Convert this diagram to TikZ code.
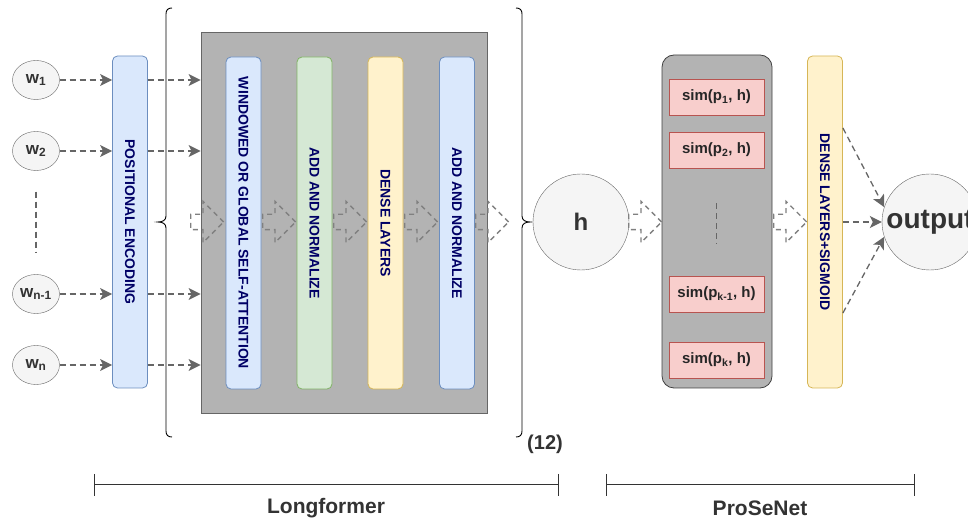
\documentclass[tikz,border=0pt]{standalone}
\usepackage{fontspec}
\setmainfont{Liberation Sans}
\usetikzlibrary{arrows.meta,shapes.geometric,shapes.arrows}

\definecolor{navy}{HTML}{000066}
\definecolor{txt}{HTML}{333333}
\definecolor{edge}{HTML}{666666}
\definecolor{lightfill}{HTML}{F5F5F5}
\definecolor{boxgray}{HTML}{B3B3B3}
\definecolor{bluefill}{HTML}{DAE8FC}
\definecolor{bluedraw}{HTML}{6C8EBF}
\definecolor{greenfill}{HTML}{D5E8D4}
\definecolor{greendraw}{HTML}{82B366}
\definecolor{yellowfill}{HTML}{FFF2CC}
\definecolor{yellowdraw}{HTML}{D6B656}
\definecolor{redfill}{HTML}{F8CECC}
\definecolor{reddraw}{HTML}{B85450}

\begin{document}
\begin{tikzpicture}[x=1pt,y=1pt,
        token/.style={ellipse, draw=edge, fill=lightfill, minimum width=47pt, minimum height=39pt, inner sep=0pt, text=txt, font=\fontsize{17}{20}\selectfont\bfseries},
        layer/.style={rectangle, rounded corners=5pt, minimum width=35pt, minimum height=332pt, inner sep=0pt, line width=0.8pt},
        vtext/.style={rotate=-90, text=navy, font=\fontsize{14}{16}\selectfont\bfseries},
        simbox/.style={rectangle, draw=reddraw, fill=redfill, line width=0.8pt, minimum width=95pt, minimum height=36pt, inner sep=0pt, text=black!85, font=\fontsize{15}{18}\selectfont\bfseries},
        flow/.style={draw=edge, dash pattern=on 6pt off 4pt, line width=1.3pt, -{Stealth[length=12pt,width=12pt,inset=3pt]}},
        fat/.style={single arrow, draw=gray, dash pattern=on 5pt off 4pt, line width=1.3pt, minimum height=33pt, inner xsep=0pt, inner ysep=7pt, single arrow head extend=13pt, anchor=tail},
        bar/.style={draw=txt, line width=0.8pt},
        caption/.style={text=txt, font=\fontsize{21}{24}\selectfont\bfseries}]
    \useasboundingbox (0,0) rectangle (968,521);

    % input tokens
    \node[token] (w1) at (36,441) {w\textsubscript{1}};
    \node[token] (w2) at (36,370) {w\textsubscript{2}};
    \node[token] (wn1) at (36,227) {w\textsubscript{n-1}};
    \node[token] (wn) at (36,156) {w\textsubscript{n}};
    \draw[draw=edge, dash pattern=on 6pt off 4pt, line width=1.3pt] ([yshift=-21pt]w2.south) -- ([yshift=21pt]wn1.north);

    \node[layer, draw=bluedraw, fill=bluefill, label={[vtext]center:POSITIONAL ENCODING}] (pe) at (130,299) {};

    % longformer block
    \node[draw=edge, fill=boxgray, line width=0.8pt, minimum width=286pt, minimum height=381pt, inner sep=0pt] (longbox) at (344,298.5) {};
    \node[layer, draw=bluedraw, fill=bluefill, label={[vtext]center:WINDOWED OR GLOBAL SELF-ATTENTION}] (attn) at (243.5,298) {};
    \node[layer, draw=greendraw, fill=greenfill, label={[vtext]center:ADD AND NORMALIZE}] (addnorma) at (314.5,298) {};
    \node[layer, draw=yellowdraw, fill=yellowfill, label={[vtext]center:DENSE LAYERS}] (dense) at (385.5,298) {};
    \node[layer, draw=bluedraw, fill=bluefill, label={[vtext]center:ADD AND NORMALIZE}] (addnormb) at (457,298) {};

    \foreach \w in {w1,w2,wn1,wn} {
        \draw[flow] (\w) -- (\w -| pe.west);
        \draw[flow] (pe.east |- \w) -- (longbox.west |- \w);
    }

    % braces round the repeated block
    \draw[line width=0.9pt] (172,513) .. controls (168,513) and (166,511) .. (166,507) -- (166,305)
        .. controls (166,301) and (163,299) .. (158,299) .. controls (163,299) and (166,297) .. (166,293)
        -- (166,90) .. controls (166,86) and (168,84) .. (172,84);
    \draw[line width=0.9pt] (516,513) .. controls (520,513) and (522,511) .. (522,507) -- (522,305)
        .. controls (522,301) and (525,299) .. (530,299) .. controls (525,299) and (522,297) .. (522,293)
        -- (522,90) .. controls (522,86) and (520,84) .. (516,84);
    \node[text=txt, font=\fontsize{20}{24}\selectfont\bfseries] (rep) at (545,77) {(12)};

    \node[circle, draw=edge, fill=lightfill, minimum size=96pt, inner sep=0pt, text=txt, font=\fontsize{24}{28}\selectfont\bfseries] (h) at (581,299) {h};

    % prototype block
    \node[draw=black!75, fill=boxgray, rounded corners=12pt, line width=0.8pt, minimum width=110pt, minimum height=333pt, inner sep=0pt] (protobox) at (717,299.5) {};
    \node[simbox] (sim1) at (716.5,424) {sim(p\textsubscript{1}, h)};
    \node[simbox] (sim2) at (716.5,371) {sim(p\textsubscript{2}, h)};
    \node[simbox] (simk1) at (716.5,227) {sim(p\textsubscript{k-1}, h)};
    \node[simbox] (simk) at (716.5,161) {sim(p\textsubscript{k}, h)};
    \draw[draw=edge, dash pattern=on 6pt off 4pt, line width=1.3pt] ([yshift=-35pt]sim2.south) -- ([yshift=32pt]simk1.north);

    \node[layer, draw=yellowdraw, fill=yellowfill, label={[vtext]center:DENSE LAYERS+SIGMOID}] (sig) at (825,299) {};

    \node[circle, draw=edge, fill=lightfill, minimum size=96pt, inner sep=0pt, text=txt, font=\fontsize{28}{32}\selectfont\bfseries] (out) at (930,299) {output};

    \draw[flow] ([yshift=94pt]sig.east) -- (out.162);
    \draw[flow] (sig.east) -- (out.west);
    \draw[flow] ([yshift=-91pt]sig.east) -- (out.198);

    % hollow block arrows
    \node[fat] (ba1) at (190,299) {};
    \node[fat] (ba2) at (262,299) {};
    \node[fat] (ba3) at (333,299) {};
    \node[fat] (ba4) at (404,299) {};
    \node[fat] (ba5) at (475,299) {};
    \node[fat] (ba6) at (628,299) {};
    \node[fat] (ba7) at (773,299) {};

    % scale bars
    \coordinate (lfl) at (94,37);
    \coordinate (lfr) at (558,37);
    \coordinate (psl) at (606,37);
    \coordinate (psr) at (914,37);
    \draw[bar] (lfl) -- (lfr);
    \draw[bar] (psl) -- (psr);
    \foreach \c in {lfl,lfr,psl,psr}
        \draw[bar] ([yshift=10pt]\c) -- ([yshift=-12pt]\c);
    \node[caption] (lfname) at (326,13) {Longformer};
    \node[caption] (psname) at (760,13) {ProSeNet};
\end{tikzpicture}
\end{document}
